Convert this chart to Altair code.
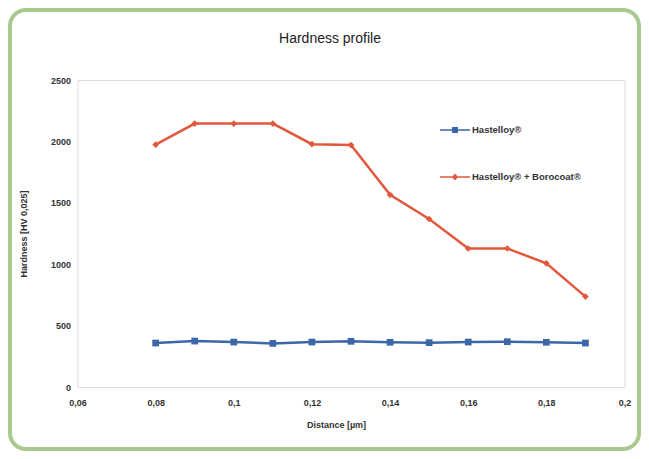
import altair as alt
import pandas as pd

# ---- data ----
distance = [0.08, 0.09, 0.10, 0.11, 0.12, 0.13, 0.14, 0.15, 0.16, 0.17, 0.18, 0.19]
hastelloy = [358, 374, 366, 355, 366, 372, 364, 361, 366, 369, 364, 358]
borocoat = [1973, 2145, 2145, 2145, 1977, 1970, 1565, 1368, 1128, 1128, 1007, 736]
series = ["Hastelloy®", "Hastelloy® + Borocoat®"]
x_ticks = [0.06, 0.08, 0.10, 0.12, 0.14, 0.16, 0.18, 0.20]
y_ticks = [0, 500, 1000, 1500, 2000, 2500]
colors = ["#3b66a8", "#e2583c"]

rows = []
for d, v in zip(distance, hastelloy):
    rows.append({"Distance": d, "Hardness": v, "Series": series[0]})
for d, v in zip(distance, borocoat):
    rows.append({"Distance": d, "Hardness": v, "Series": series[1]})
df = pd.DataFrame(rows)

FONT = "Liberation Sans"

sq_path = "M-1,-0.045H1V0.045H-1Z M-0.2,-0.2H0.2V0.2H-0.2Z"
di_path = "M-1,-0.045H1V0.045H-1Z M0,-0.23L0.21,0L0,0.23L-0.21,0Z"

legend = alt.Legend(
    orient="none", legendX=362.5, legendY=35, title=None, direction="vertical",
    rowPadding=27, labelOffset=2, labelFont=FONT, labelFontSize=9.5,
    labelFontWeight="bold", labelColor="#333333", symbolSize=900, padding=0,
    symbolOpacity=1, symbolStrokeWidth=0,
)

x = alt.X("Distance:Q",
          scale=alt.Scale(domain=[0.06, 0.2], nice=False, zero=False),
          axis=alt.Axis(values=x_ticks, title="Distance [µm]", grid=False, domain=False, ticks=False,
                        labelExpr="replace(format(datum.value, '.2~f'), '.', ',')", labelFlush=False,
                        labelFont=FONT, labelFontSize=9, labelFontWeight="bold", labelColor="#333333",
                        labelPadding=11, titleFont=FONT, titleFontSize=9, titleFontWeight="bold",
                        titleColor="#333333", titlePadding=13, titleX=258.5))
y = alt.Y("Hardness:Q",
          scale=alt.Scale(domain=[0, 2500], nice=False),
          axis=alt.Axis(values=y_ticks, title="Hardness [HV 0,025]", grid=False, domain=False, ticks=False,
                        format="d", labelFlush=False, labelFont=FONT, labelFontSize=9, labelFontWeight="bold",
                        labelColor="#333333", labelPadding=7, titleFont=FONT, titleFontSize=9,
                        titleFontWeight="bold", titleColor="#333333", titlePadding=22))

base = alt.Chart(df)
layers = []
for name, col, shp, sz in [(series[0], colors[0], "square", 45), (series[1], colors[1], "diamond", 45)]:
    sub = base.transform_filter(alt.datum.Series == name)
    layers.append(sub.mark_line(strokeWidth=2.5, color=col).encode(x=x, y=y))
    layers.append(sub.mark_point(filled=True, size=sz, opacity=1, color=col, shape=shp).encode(x=x, y=y))

legend_layer = base.mark_point(filled=True, opacity=0, size=900).encode(
    x=x, y=y,
    color=alt.Color("Series:N", scale=alt.Scale(domain=series, range=colors), legend=legend),
    shape=alt.Shape("Series:N", scale=alt.Scale(domain=series, range=[sq_path, di_path]), legend=legend),
)

frame = alt.Chart(pd.DataFrame({"k": [0]})).mark_rect(
    fill="transparent", stroke="#a9c98f", strokeWidth=4, cornerRadius=16
).encode(x=alt.value(-67.5), x2=alt.value(561.5), y=alt.value(-70), y2=alt.value(369))

chart = alt.layer(frame, *layers, legend_layer).properties(
    width=547, height=307,
    title=alt.TitleParams("Hardness profile", font=FONT, fontSize=14, fontWeight="normal",
                          color="#222222", frame="group", dx=-21, dy=38, offset=0),
    autosize=alt.AutoSizeParams(type="none"),
    padding={"left": 69.5, "top": 72, "right": 16.5, "bottom": 64},
).configure_view(stroke=None).configure(background="white")

chart.save("out.html", embed_options={"renderer": "svg", "actions": False})
